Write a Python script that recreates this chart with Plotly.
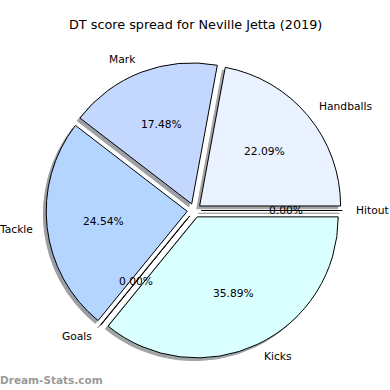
import math
import plotly.graph_objects as go

# ---- data ----
categories = ["Handballs", "Mark", "Tackle", "Goals", "Kicks", "Hitout"]
shares = [22.09, 17.48, 24.54, 0.0, 35.89, 0.0]
slice_colors = ["#eaf1ff", "#c4d8ff", "#b3d5ff", "#c8dcff", "#d9ffff", "#eef6ff"]
title_text = "DT score spread for Neville Jetta (2019)"
watermark = "Dream-Stats.com"

# ---- geometry (pixels) ----
W = H = 390
CX, CY = 194.2, 210.5
R = 141.0
EXPLODE = 0.05
LABEL_D = 1.1
PCT_D = 0.6
SHADOW = 0.02
FONT = "DejaVu Sans"
LABEL_SIZE = 10.7
TITLE_SIZE = 12.8


def px(x):
    return x / W


def py(y):
    return 1 - y / H


def shadow_col(hexc):
    h = hexc.lstrip("#")
    r, g, b = (int(h[i:i + 2], 16) for i in (0, 2, 4))
    f = lambda c: int(round(0.15 * c + 127.5))
    return "rgb(%d,%d,%d)" % (f(r), f(g), f(b))


D = 2 * R * (1 + EXPLODE)


def domain(dx=0.0, dy=0.0):
    cx, cy = CX + dx, CY + dy
    return dict(x=[px(cx - D / 2), px(cx + D / 2)],
                y=[py(cy + D / 2), py(cy - D / 2)])


total = sum(shares)
pulls = [EXPLODE] * len(shares)
# plotly (counterclockwise) places the first slice clockwise of `rotation`;
# shift so that the first slice starts at 3 o'clock and runs counterclockwise
rot = 90 - 360 * shares[0] / total

fig = go.Figure()
# shadow pie
fig.add_trace(go.Pie(
    labels=categories, values=shares, sort=False,
    direction="counterclockwise", rotation=rot,
    pull=pulls, domain=domain(-SHADOW * R, SHADOW * R),
    marker=dict(colors=[shadow_col(c) for c in slice_colors],
                line=dict(color=[shadow_col(c) for c in slice_colors], width=1)),
    textinfo="none", hoverinfo="skip", showlegend=False,
))
# main pie
fig.add_trace(go.Pie(
    labels=categories, values=shares, sort=False,
    direction="counterclockwise", rotation=rot,
    pull=pulls, domain=domain(),
    marker=dict(colors=slice_colors, line=dict(color="black", width=1)),
    textinfo="none", showlegend=False,
))

annotations = []
cum = 0.0
for cat, v in zip(categories, shares):
    frac = v / total
    mid = math.radians(360 * (cum + frac / 2))
    cum += frac
    ox = CX + EXPLODE * R * math.cos(mid)
    oy = CY - EXPLODE * R * math.sin(mid)
    lx = ox + LABEL_D * R * math.cos(mid)
    ly = oy - LABEL_D * R * math.sin(mid)
    tx = ox + PCT_D * R * math.cos(mid)
    ty = oy - PCT_D * R * math.sin(mid)
    right = math.cos(mid) > 0
    annotations.append(dict(
        x=px(lx), y=py(ly), xref="paper", yref="paper", text=cat,
        showarrow=False, xanchor="left" if right else "right",
        xshift=-1 if right else 1, borderpad=0,
        yanchor="middle", font=dict(family=FONT, size=LABEL_SIZE, color="black")))
    annotations.append(dict(
        x=px(tx), y=py(ty), xref="paper", yref="paper",
        text="%.2f%%" % (100 * frac), borderpad=0,
        showarrow=False, xanchor="center", yanchor="middle",
        font=dict(family=FONT, size=LABEL_SIZE, color="black")))

annotations.append(dict(
    x=px(195), y=py(25), xref="paper", yref="paper", text=title_text,
    showarrow=False, xanchor="center", yanchor="middle",
    font=dict(family=FONT, size=TITLE_SIZE, color="black")))
annotations.append(dict(
    x=0, y=py(380), xref="paper", yref="paper", text="<b>%s</b>" % watermark,
    showarrow=False, xanchor="left", yanchor="middle", xshift=-1, borderpad=0,
    font=dict(family=FONT, size=10.5, color="#9a9a9a")))

fig.update_layout(
    width=W, height=H, margin=dict(l=0, r=0, t=0, b=0),
    paper_bgcolor="white", plot_bgcolor="white",
    annotations=annotations,
)

fig.write_html("out.html", config={"displayModeBar": False},
               post_script="document.body.style.margin='0px';")
